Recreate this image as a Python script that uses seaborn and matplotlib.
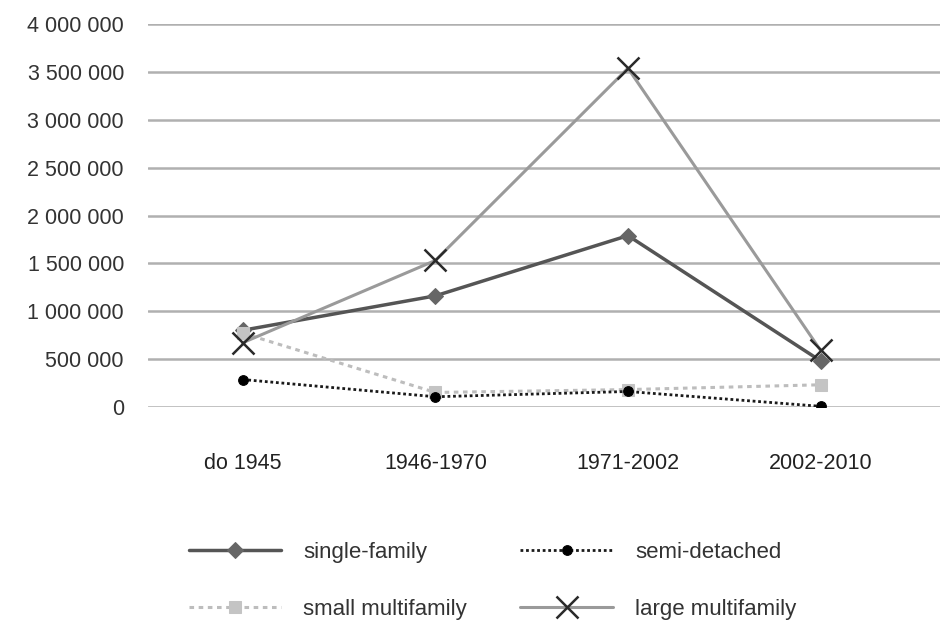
import matplotlib
matplotlib.use("Agg")
import matplotlib.pyplot as plt
import seaborn as sns
import pandas as pd

periods = ["do 1945", "1946-1970", "1971-2002", "2002-2010"]
single_family = [800000, 1160000, 1790000, 480000]
semi_detached = [285000, 105000, 160000, 5000]
small_multifamily = [770000, 150000, 180000, 230000]
large_multifamily = [670000, 1530000, 3540000, 590000]
y_ticks = [0, 500000, 1000000, 1500000, 2000000, 2500000, 3000000, 3500000, 4000000]

sns.set_theme(style="white")
plt.rcParams['font.family'] = ['Liberation Sans', 'DejaVu Sans']

fig = plt.figure(figsize=(9.4, 6.22), dpi=100)
ax = fig.add_axes([0.157, 0.346, 0.843, 0.615])

# order picked so a 2-column legend reads row by row like the original
styles = [
    ("single-family", single_family, dict(color="#555555", linestyle="-", linewidth=2.5,
                                         marker="D", markersize=8, markerfacecolor="#666666",
                                         markeredgecolor="#666666")),
    ("small multifamily", small_multifamily, dict(color="#bdbdbd", linestyle=(0, (1.5, 1.5)), linewidth=2.2,
                                                 marker="s", markersize=8, markerfacecolor="#c4c4c4",
                                                 markeredgecolor="#c4c4c4")),
    ("semi-detached", semi_detached, dict(color="#1a1a1a", linestyle=(0, (1, 1)), linewidth=2.0,
                                         marker="o", markersize=7, markerfacecolor="#000000",
                                         markeredgecolor="#000000")),
    ("large multifamily", large_multifamily, dict(color="#9a9a9a", linestyle="-", linewidth=2.2,
                                                 marker="x", markersize=16, markeredgewidth=1.8,
                                                 markeredgecolor="#2a2a2a")),
]

for name, vals, kw in styles:
    df = pd.DataFrame({"period": periods, "value": vals})
    sns.lineplot(data=df, x="period", y="value", ax=ax, sort=False, label=name, **kw)

ax.set_xlim(-0.494, 3.62)
ax.set_ylim(0, 4000000)
ax.set_yticks(y_ticks)
ax.set_yticklabels([f"{v:,.0f}".replace(",", " ") for v in y_ticks])
ax.yaxis.grid(True, color="#b0b0b0", linewidth=1.8)
ax.set_axisbelow(True)
ax.set_xlabel("")
ax.set_ylabel("")
for s in ax.spines.values():
    s.set_visible(False)
ax.tick_params(axis="y", labelsize=15.5, labelcolor="#333333", pad=17, length=0)
ax.tick_params(axis="x", labelsize=15.5, labelcolor="#222222", pad=33, length=0)

handles, labels = ax.get_legend_handles_labels()
ax.legend_.remove()
fig.legend(handles, labels, ncol=2, loc="center", bbox_to_anchor=(0.524, 0.066),
           frameon=False, fontsize=16, handlelength=4.15, handletextpad=1.0,
           columnspacing=2.4, labelspacing=1.6, labelcolor="#333333")

fig.savefig("out.png", dpi=100)
